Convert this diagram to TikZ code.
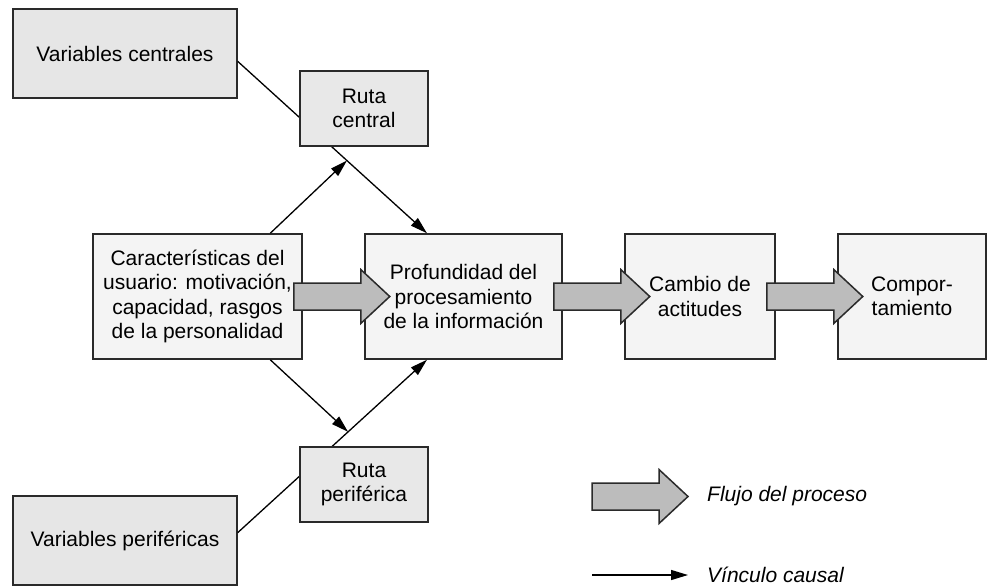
\documentclass[tikz,border=0pt]{standalone}
\usepackage{fontspec}
\setmainfont{Liberation Sans}
\usetikzlibrary{arrows.meta,calc}
\definecolor{bordc}{HTML}{2A2A2A}
\definecolor{varfill}{HTML}{E6E6E6}
\definecolor{rutafill}{HTML}{E8E8E8}
\definecolor{mainfill}{HTML}{F4F4F4}
\definecolor{flowfill}{HTML}{BCBCBC}
\tikzset{
  box/.style={draw=bordc, line width=1.5pt, inner sep=0pt, align=center,
    font=\fontsize{21}{24.5}\selectfont},
  varbox/.style={box, fill=varfill, minimum width=224pt, minimum height=89pt},
  rutabox/.style={box, fill=rutafill, minimum width=128pt, minimum height=75pt},
  mainbox/.style={box, fill=mainfill, minimum height=125pt},
  link/.style={draw=black, line width=1.3pt, -{Triangle[length=17pt,width=10pt]}},
  plainlink/.style={draw=black, line width=1.3pt},
  flowstyle/.style={draw=bordc, line width=1.5pt, fill=flowfill, line join=miter},
  flow/.pic={\draw[flowstyle] (0,-13.5) -- (67,-13.5) -- (67,-27) -- (96,0) -- (67,27) -- (67,13.5) -- (0,13.5) -- cycle;},
  legendtext/.style={anchor=west, inner sep=0pt, font=\fontsize{21}{24.5}\selectfont\itshape}
}
\begin{document}
\begin{tikzpicture}[x=1pt,y=-1pt]
\useasboundingbox (0,0) rectangle (987,587);
% main nodes
\node[varbox] (vc) at (125,53.5) {Variables centrales};
\node[varbox] (vp) at (125,540.5) {Variables periféricas};
\node[mainbox, minimum width=209pt] (car) at (197.5,296.5) {Características del\\usuario: motivación,\\capacidad, rasgos\\de la personalidad};
\node[mainbox, minimum width=197pt] (prof) at (463.5,296.5) {Profundidad del\\procesamiento\\de la información};
\node[mainbox, minimum width=150pt] (cam) at (700,296.5) {Cambio de\\actitudes};
\node[mainbox, minimum width=148pt] (comp) at (912,296.5) {Compor-\\tamiento};
% causal lines (behind route boxes)
\draw[link] (vc.-4.3) -- coordinate[pos=0.577] (mc) (prof.120);
\draw[link] (vp.4.3) -- coordinate[pos=0.583] (mp) (prof.240);
\draw[link] (car.41.6) -- (mc);
\draw[link] (car.-41.6) -- (mp);
% route boxes
\node[rutabox] (rc) at (364,108.5) {Ruta\\central};
\node[rutabox] (rp) at (364,484.5) {Ruta\\periférica};
% process flow arrows
\pic at ($(car.east)+(-9,0)$) {flow};
\pic at ($(prof.east)+(-9,0)$) {flow};
\pic at ($(cam.east)+(-9,0)$) {flow};
% legend
\pic at (592,496.5) {flow};
\node[legendtext] (lf) at (707,496.5) {Flujo del proceso};
\coordinate (la) at (592,575);
\coordinate (lb) at (688,575);
\draw[link] (la) -- (lb);
\node[legendtext] (lv) at (707,575) {Vínculo causal};
\end{tikzpicture}
\end{document}
